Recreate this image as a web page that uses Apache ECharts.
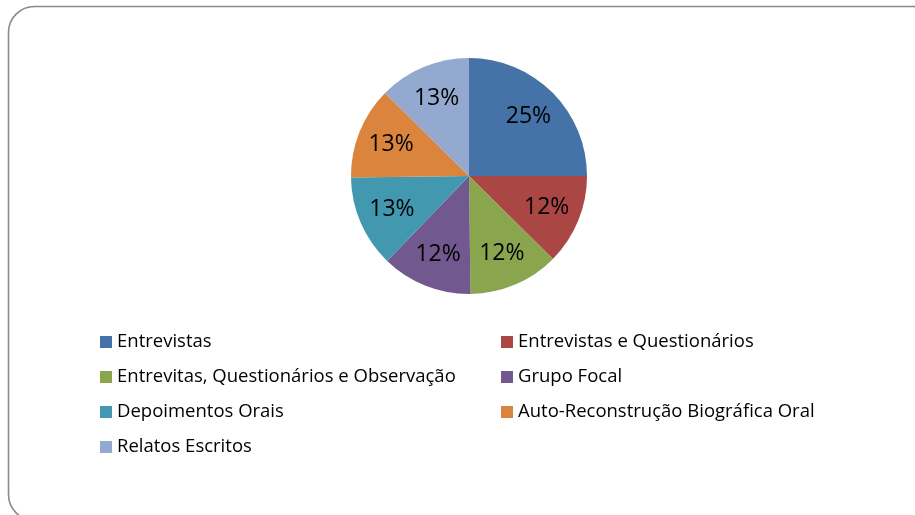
<!DOCTYPE html>
<html>
<head>
<meta charset="utf-8">
<script src="https://cdn.jsdelivr.net/npm/echarts@6/dist/echarts.min.js"></script>
<style>
  html, body { margin: 0; padding: 0; background: #fff; }
  #chart { width: 915px; height: 515px; }
</style>
</head>
<body>
<div id="chart"></div>
<script>
// categorias (ordem do gráfico, sentido horário a partir do topo)
const categories = [
  "Entrevistas",
  "Entrevistas e Questionários",
  "Entrevitas, Questionários e Observação",
  "Grupo Focal",
  "Depoimentos Orais",
  "Auto-Reconstrução Biográfica Oral",
  "Relatos Escritos"
];
// fatias em % (25 / 12 / 12 / 12 / 13 / 13 / 13)
const shares = [25, 12.4, 12.4, 12.4, 12.6, 12.6, 12.6];
const colors = ["#4572A7", "#AA4643", "#89A54E", "#71588F", "#4198AF", "#DB843D", "#93A9CF"];

// legenda em duas colunas
const leftLegend = [categories[0], categories[2], categories[4], categories[6]];
const rightLegend = [categories[1], categories[3], categories[5]];

const pieData = categories.map((name, i) => ({ name: name, value: shares[i] }));

const chart = echarts.init(document.getElementById("chart"));

const legendBase = {
  orient: "vertical",
  top: 332,
  padding: 0,
  itemWidth: 12,
  itemHeight: 12,
  itemGap: 15,
  icon: "rect",
  selectedMode: false,
  textStyle: {
    fontFamily: "Open Sans",
    fontSize: 18.5,
    lineHeight: 20,
    color: "#000"
  }
};

chart.setOption({
  animation: false,
  color: colors,
  graphic: [{
    type: "rect",
    shape: { x: 8.5, y: 6.5, width: 930, height: 514, r: 26 },
    style: { fill: "none", stroke: "#8a8a8a", lineWidth: 1.6 },
    z: -1
  }],
  legend: [
    Object.assign({ left: 100, data: leftLegend }, legendBase),
    Object.assign({ left: 501, data: rightLegend }, legendBase)
  ],
  series: [
    {
      // fatias
      type: "pie",
      center: [469, 176],
      radius: [0, 118],
      startAngle: 90,
      clockwise: true,
      silent: true,
      label: { show: false },
      labelLine: { show: false },
      itemStyle: { borderWidth: 0 },
      data: pieData
    },
    {
      // só para posicionar os rótulos um pouco mais para fora
      type: "pie",
      center: [469, 176],
      radius: [44, 118],
      startAngle: 90,
      clockwise: true,
      silent: true,
      percentPrecision: 0,
      itemStyle: { color: "rgba(0,0,0,0)", borderWidth: 0 },
      label: {
        show: true,
        position: "inner",
        formatter: "{d}%",
        fontFamily: "Open Sans",
        fontSize: 23,
        color: "#000"
      },
      labelLine: { show: false },
      data: pieData
    }
  ]
});
</script>
</body>
</html>
